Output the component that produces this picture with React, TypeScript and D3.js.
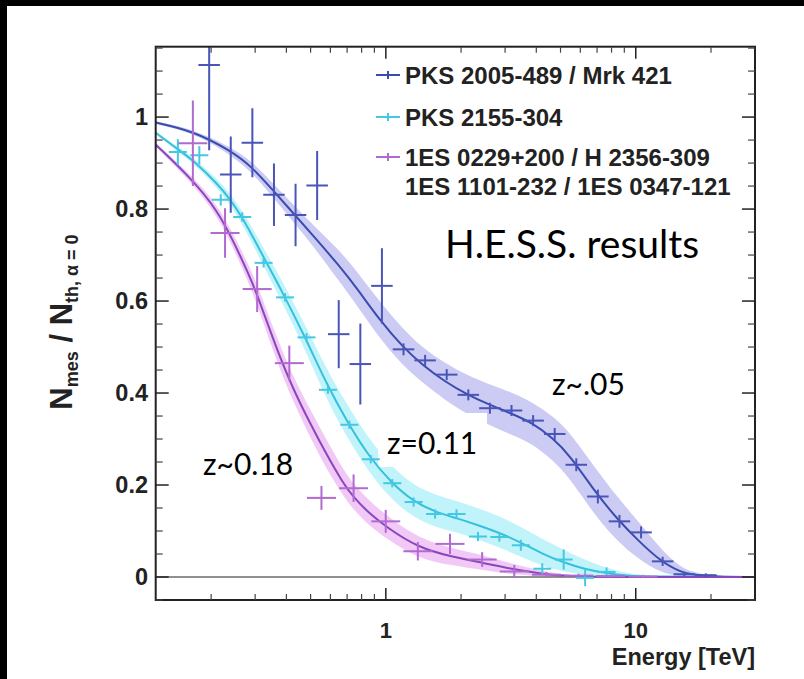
import React from 'react';
import * as d3 from 'd3';

// ---------- data ----------
// PKS 2005-489 / Mrk 421 (z~.05)
const blueE = [0.1964, 0.2396, 0.2924, 0.3568, 0.4353, 0.5311, 0.648, 0.7907, 0.9647, 1.177, 1.436, 1.752, 2.138, 2.609, 3.183, 3.884, 4.739, 5.781, 7.054, 8.607, 10.5, 12.81, 15.63, 19.07];
const blueN = [1.113, 0.875, 0.944, 0.831, 0.787, 0.851, 0.528, 0.463, 0.633, 0.495, 0.471, 0.44, 0.396, 0.367, 0.362, 0.34, 0.311, 0.244, 0.175, 0.121, 0.097, 0.034, 0.006, 0.004];
const blueErr = [0.185, 0.083, 0.075, 0.068, 0.068, 0.075, 0.074, 0.088, 0.082, 0.013, 0.012, 0.012, 0.012, 0.012, 0.012, 0.012, 0.013, 0.014, 0.015, 0.014, 0.013, 0.01, 0.005, 0.004];
const blueBinHalf = 0.043;

const blueCurveE = [0.12, 0.169, 0.2377, 0.2911, 0.3532, 0.4325, 0.5297, 0.6546, 0.7656, 0.9462, 1.169, 1.406, 1.722, 2.109, 2.559, 3.133, 3.837, 4.656, 5.445, 6.982, 8.472, 10.19, 12.47, 15.0, 18.54, 30];
const blueCurveN = [0.988, 0.97, 0.928, 0.892, 0.841, 0.787, 0.733, 0.675, 0.628, 0.558, 0.5, 0.46, 0.425, 0.397, 0.376, 0.357, 0.336, 0.302, 0.265, 0.18, 0.125, 0.08, 0.036, 0.01, 0.001, 0];
const blueBandLo = [0.985, 0.966, 0.92, 0.88, 0.826, 0.768, 0.709, 0.641, 0.591, 0.518, 0.46, 0.422, 0.385, 0.355, 0.332, 0.311, 0.291, 0.254, 0.215, 0.128, 0.077, 0.04, 0.01, 0.001, 0, 0];
const blueBandHi = [0.991, 0.974, 0.936, 0.904, 0.856, 0.806, 0.757, 0.709, 0.665, 0.598, 0.54, 0.498, 0.465, 0.439, 0.42, 0.403, 0.381, 0.35, 0.315, 0.232, 0.173, 0.122, 0.064, 0.02, 0.003, 0];

// PKS 2155-304 (z=0.11)
const cyanE = [0.1472, 0.1794, 0.2185, 0.2662, 0.3243, 0.3952, 0.4816, 0.5866, 0.7147, 0.8706, 1.061, 1.292, 1.574, 1.918, 2.337, 2.847, 3.469, 4.226, 5.148, 6.272, 7.641];
const cyanN = [0.924, 0.917, 0.82, 0.783, 0.683, 0.608, 0.521, 0.407, 0.331, 0.256, 0.204, 0.163, 0.137, 0.137, 0.088, 0.087, 0.069, 0.018, 0.038, -0.002, 0.011];
const cyanErr = [0.028, 0.02, 0.012, 0.01, 0.01, 0.009, 0.009, 0.009, 0.009, 0.009, 0.009, 0.01, 0.01, 0.01, 0.01, 0.01, 0.012, 0.012, 0.022, 0.018, 0.01];
const cyanBinHalf = 0.036;

const cyanCurveE = [0.12, 0.1472, 0.1722, 0.2109, 0.2377, 0.2606, 0.2938, 0.3281, 0.3767, 0.4742, 0.5808, 0.7047, 0.863, 1.057, 1.282, 1.6, 1.923, 2.333, 2.858, 3.499, 4.246, 5.105, 6.252, 7.656, 9.204, 11.38, 30];
const cyanCurveN = [0.966, 0.93, 0.903, 0.856, 0.822, 0.79, 0.74, 0.69, 0.63, 0.523, 0.418, 0.335, 0.259, 0.204, 0.165, 0.14, 0.128, 0.113, 0.096, 0.074, 0.05, 0.032, 0.017, 0.008, 0.003, 0.0005, 0];
const cyanBandLo = [0.963, 0.925, 0.897, 0.846, 0.81, 0.776, 0.723, 0.67, 0.607, 0.496, 0.385, 0.3, 0.225, 0.168, 0.13, 0.107, 0.097, 0.082, 0.064, 0.043, 0.024, 0.012, 0.004, 0.001, 0, 0, 0];
const cyanBandHi = [0.969, 0.935, 0.909, 0.866, 0.834, 0.804, 0.757, 0.71, 0.653, 0.55, 0.45, 0.372, 0.297, 0.24, 0.2, 0.177, 0.165, 0.15, 0.132, 0.108, 0.082, 0.06, 0.037, 0.02, 0.008, 0.002, 0];

// 1ES 0229+200 / H 2356-309 / 1ES 1101-232 / 1ES 0347-121 (z~0.18)
const magE = [0.169, 0.2273, 0.3056, 0.411, 0.5526, 0.743, 0.9991, 1.343, 1.806, 2.429, 3.266, 4.391, 5.905, 7.94, 10.68];
const magN = [0.943, 0.748, 0.626, 0.465, 0.172, 0.193, 0.121, 0.056, 0.072, 0.038, 0.012, 0.005, 0.003, 0.002, 0.001];
const magErr = [0.093, 0.054, 0.05, 0.038, 0.026, 0.03, 0.025, 0.02, 0.022, 0.016, 0.014, 0.006, 0.004, 0.003, 0.003];
const magBinHalf = 0.058;

const magCurveE = [0.12, 0.169, 0.2109, 0.2443, 0.2805, 0.302, 0.3664, 0.4246, 0.4966, 0.5808, 0.673, 0.7379, 0.863, 1.009, 1.343, 1.837, 2.443, 3.281, 4.406, 5.97, 8.63, 30];
const magCurveN = [0.94, 0.863, 0.798, 0.733, 0.662, 0.622, 0.494, 0.41, 0.335, 0.265, 0.205, 0.175, 0.137, 0.108, 0.064, 0.044, 0.031, 0.016, 0.005, 0.001, 0, 0];
const magBandLo = [0.936, 0.855, 0.786, 0.718, 0.643, 0.6, 0.468, 0.383, 0.305, 0.233, 0.178, 0.148, 0.11, 0.083, 0.04, 0.025, 0.015, 0.005, 0.001, 0, 0, 0];
const magBandHi = [0.944, 0.871, 0.81, 0.748, 0.681, 0.644, 0.52, 0.437, 0.365, 0.297, 0.235, 0.203, 0.165, 0.133, 0.085, 0.062, 0.048, 0.027, 0.01, 0.002, 0, 0];

const yTickValues = [0, 0.2, 0.4, 0.6, 0.8, 1];
const yTickLabels = ['0', '0.2', '0.4', '0.6', '0.8', '1'];
const xTickValues = [1, 10];
const xTickLabels = ['1', '10'];
const xMinorValues = [0.2, 0.3, 0.4, 0.5, 0.6, 0.7, 0.8, 0.9, 2, 3, 4, 5, 6, 7, 8, 9, 20];

const legendLines = [
  { label: 'PKS 2005-489 / Mrk 421', color: '#3b4cb0' },
  { label: 'PKS 2155-304', color: '#45c8e2' },
  { label: '1ES 0229+200 / H 2356-309', color: '#b06ad0' },
];
const legendExtra = '1ES 1101-232 / 1ES 0347-121';

// ---------- styling ----------
const W = 804, H = 679;
const X0 = 155.7, X1 = 755, Y0 = 46.7, Y1 = 600;
const SANS = "'Liberation Sans', Arial, Helvetica, sans-serif";
const HUMAN = "Lato, 'Open Sans', sans-serif";

const series = [
  { E: blueE, N: blueN, err: blueErr, half: blueBinHalf, cE: blueCurveE, cN: blueCurveN, lo: blueBandLo, hi: blueBandHi,
    line: '#3b4cb0', pt: '#4a55b8', band: '#c8c8f3' },
  { E: cyanE, N: cyanN, err: cyanErr, half: cyanBinHalf, cE: cyanCurveE, cN: cyanCurveN, lo: cyanBandLo, hi: cyanBandHi,
    line: '#36c0de', pt: '#45c8e2', band: '#bdf2fa' },
  { E: magE, N: magN, err: magErr, half: magBinHalf, cE: magCurveE, cN: magCurveN, lo: magBandLo, hi: magBandHi,
    line: '#8748bd', pt: '#b06ad0', band: '#f1c5f5' },
];

export default function App() {
  const x = d3.scaleLog().domain([0.12, 30]).range([X0, X1]);
  const y = d3.scaleLinear().domain([-0.05, 1.153]).range([Y1, Y0]);
  const yMinor = d3.range(-0.05, 1.16, 0.05).filter(v => yTickValues.every(t => Math.abs(t - v) > 1e-6));

  const area = (s: any) =>
    d3.area<number>()
      .x((_, i) => x(s.cE[i]))
      .y0((_, i) => y(s.lo[i]))
      .y1((_, i) => y(s.hi[i]))
      .curve(d3.curveBasis)(s.cE.map((_: number, i: number) => i)) || '';
  const line = (s: any) =>
    d3.line<number>()
      .x((_, i) => x(s.cE[i]))
      .y((_, i) => y(s.cN[i]))
      .curve(d3.curveBasis)(s.cE.map((_: number, i: number) => i)) || '';

  return (
    <svg width={W} height={H} style={{ position: 'absolute', left: 0, top: 0, display: 'block' }}>
      <defs>
        <clipPath id="plot">
          <rect x={X0} y={Y0} width={X1 - X0} height={Y1 - Y0} />
        </clipPath>
      </defs>
      <rect x={0} y={0} width={W} height={H} fill="#000" />
      <rect x={7} y={6} width={W - 7} height={H - 6} fill="#fff" />

      <g clipPath="url(#plot)">
        {series.map((s, i) => (
          <path key={'b' + i} d={area(s)} fill={s.band} opacity={0.95} />
        ))}
        {/* white label box */}
        <rect x={378} y={413} width={109} height={54} fill="#fff" />
        <line x1={X0} x2={X1} y1={y(0)} y2={y(0)} stroke="#222" strokeWidth={1.2} />
        {series.map((s, i) => (
          <path key={'l' + i} d={line(s)} fill="none" stroke={s.line} strokeWidth={2} />
        ))}
        {series.map((s, si) => (
          <g key={'p' + si} stroke={s.pt} strokeWidth={2}>
            {s.E.map((e, i) => {
              const cx = x(e);
              const cy = y(s.N[i]);
              return (
                <g key={i}>
                  <line x1={x(e / Math.pow(10, s.half))} x2={x(e * Math.pow(10, s.half))} y1={cy} y2={cy} />
                  <line x1={cx} x2={cx} y1={y(s.N[i] - s.err[i])} y2={y(s.N[i] + s.err[i])} />
                </g>
              );
            })}
          </g>
        ))}
      </g>

      {/* frame */}
      <rect x={X0} y={Y0} width={X1 - X0} height={Y1 - Y0} fill="none" stroke="#222" strokeWidth={2} />

      {/* y ticks */}
      {yTickValues.map((v, i) => (
        <g key={'yt' + i}>
          <line x1={X0} x2={X0 + 13} y1={y(v)} y2={y(v)} stroke="#222" strokeWidth={1.5} />
          <line x1={X1} x2={X1 - 13} y1={y(v)} y2={y(v)} stroke="#222" strokeWidth={1.5} />
          <text x={148} y={y(v) + 8} textAnchor="end" fontFamily={SANS} fontWeight="bold" fontSize={23.5} fill="#222">
            {yTickLabels[i]}
          </text>
        </g>
      ))}
      {yMinor.map((v, i) => (
        <g key={'ym' + i}>
          <line x1={X0} x2={X0 + 7} y1={y(v)} y2={y(v)} stroke="#444" strokeWidth={1.2} />
          <line x1={X1} x2={X1 - 7} y1={y(v)} y2={y(v)} stroke="#444" strokeWidth={1.2} />
        </g>
      ))}

      {/* x ticks */}
      {xTickValues.map((v, i) => (
        <g key={'xt' + i}>
          <line x1={x(v)} x2={x(v)} y1={Y1} y2={Y1 - 12} stroke="#222" strokeWidth={1.5} />
          <line x1={x(v)} x2={x(v)} y1={Y0} y2={Y0 + 12} stroke="#222" strokeWidth={1.5} />
          <text x={x(v)} y={638} textAnchor="middle" fontFamily={SANS} fontWeight="bold" fontSize={22} fill="#222">
            {xTickLabels[i]}
          </text>
        </g>
      ))}
      {xMinorValues.map((v, i) => (
        <g key={'xm' + i}>
          <line x1={x(v)} x2={x(v)} y1={Y1} y2={Y1 - 6} stroke="#444" strokeWidth={1.2} />
          <line x1={x(v)} x2={x(v)} y1={Y0} y2={Y0 + 6} stroke="#444" strokeWidth={1.2} />
        </g>
      ))}

      {/* axis titles */}
      <text x={755} y={665} textAnchor="end" fontFamily={SANS} fontWeight="bold" fontSize={23.5} fill="#222">
        Energy [TeV]
      </text>
      <text transform="translate(72,322) rotate(-90)" textAnchor="middle" fontFamily={SANS} fontWeight="bold" fontSize={31} fill="#222">
        N<tspan fontSize={18} dy={6}>mes</tspan><tspan dy={-6}> / N</tspan><tspan fontSize={18} dy={6}>th, α = 0</tspan>
      </text>

      {/* legend */}
      {legendLines.map((l, i) => {
        const ly = [75, 117, 157][i];
        return (
          <g key={'lg' + i}>
            <line x1={376} x2={400} y1={ly} y2={ly} stroke={l.color} strokeWidth={2} />
            <line x1={388} x2={388} y1={ly - 4} y2={ly + 4} stroke={l.color} strokeWidth={2} />
            <text x={405} y={ly + 9} fontFamily={SANS} fontWeight="bold" fontSize={24} fill="#222">{l.label}</text>
          </g>
        );
      })}
      <text x={405} y={195} fontFamily={SANS} fontWeight="bold" fontSize={24} fill="#222">{legendExtra}</text>

      {/* annotations */}
      <text x={445} y={258} fontFamily={HUMAN} fontSize={39} fill="#000">H.E.S.S. results</text>
      <text x={552} y={395} fontFamily={HUMAN} fontSize={30} fill="#000">z~.05</text>
      <text x={387} y={454} fontFamily={HUMAN} fontSize={30} fill="#000">z=0.11</text>
      <text x={203} y={475} fontFamily={HUMAN} fontSize={30} fill="#000">z~0.18</text>
    </svg>
  );
}
